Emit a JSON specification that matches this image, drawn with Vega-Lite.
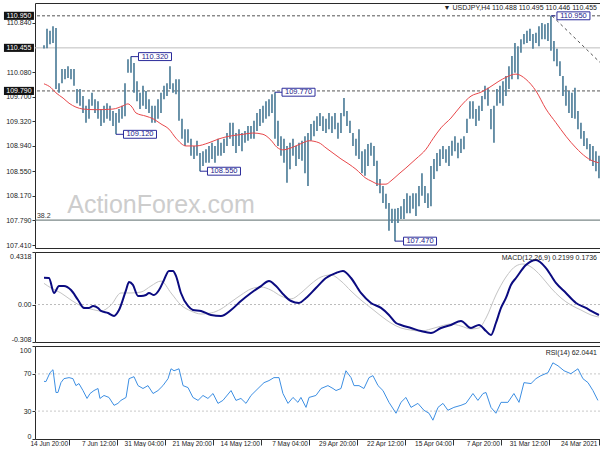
{
  "$schema": "https://vega.github.io/schema/vega-lite/v6.json",
  "padding": {"left": 0, "top": 2, "right": 1, "bottom": 0},
  "background": "white",
  "spacing": 2,
  "config": {
    "font": "Liberation Sans",
    "view": {"stroke": "#2a2a2a", "strokeWidth": 1},
    "axis": {"domain": false, "grid": false, "tickColor": "#333", "labelColor": "#222", "labelFont": "Liberation Sans"}
  },
  "resolve": {"scale": {"x": "independent", "y": "independent"}},
  "datasets": {
    "bars": [
      {"t":0,"p":108.44,"h":108.79},{"t":2,"p":108.55,"h":108.86},{"t":4,"p":108.63,"h":108.94},{"t":6,"p":108.71,"h":108.97},{"t":8,"p":108.89,"h":109.06},{"t":10,"p":108.94,"h":109.17},{"t":12,"p":109.05,"h":109.3},{"t":14,"p":109.2,"h":109.48},{"t":16,"p":109.36,"h":109.84},{"t":18,"p":109.37,"h":109.76},
      {"t":20,"p":109.45,"h":109.79},{"t":22,"p":109.56,"h":109.87},{"t":24,"p":109.71,"h":110.02},{"t":26,"p":110.02,"h":110.25},{"t":28,"p":110.17,"h":110.44},{"t":30,"p":110.25,"h":110.56},{"t":32,"p":110.41,"h":110.95},{"t":34,"p":110.56,"h":110.84},{"t":36,"p":110.59,"h":110.82},{"t":38,"p":110.59,"h":110.84},
      {"t":40,"p":110.48,"h":110.79},{"t":42,"p":110.53,"h":110.69},{"t":44,"p":110.44,"h":110.67},{"t":46,"p":110.56,"h":110.75},{"t":48,"p":110.53,"h":110.72},{"t":50,"p":110.51,"h":110.67},{"t":52,"p":110.38,"h":110.59},{"t":54,"p":109.97,"h":110.48},{"t":56,"p":110.07,"h":110.53},{"t":58,"p":109.97,"h":110.33},
      {"t":60,"p":109.82,"h":110.17},{"t":62,"p":109.71,"h":110.02},{"t":64,"p":109.56,"h":109.94},{"t":66,"p":109.6,"h":109.87},{"t":68,"p":109.56,"h":109.82},{"t":70,"p":108.99,"h":109.56},{"t":72,"p":109.2,"h":109.51},{"t":74,"p":109.56,"h":109.84},{"t":76,"p":109.66,"h":109.87},{"t":78,"p":109.48,"h":109.71},
      {"t":80,"p":109.33,"h":109.56},{"t":82,"p":109.25,"h":109.51},{"t":84,"p":109.36,"h":109.63},{"t":86,"p":109.36,"h":109.63},{"t":88,"p":109.14,"h":109.36},{"t":90,"p":108.89,"h":109.09},{"t":92,"p":108.83,"h":109.05},{"t":94,"p":108.75,"h":108.99},{"t":96,"p":108.86,"h":109.09},{"t":98,"p":108.79,"h":109.02},
      {"t":100,"p":108.63,"h":108.94},{"t":102,"p":108.68,"h":108.89},{"t":104,"p":108.74,"h":108.94},{"t":106,"p":108.63,"h":108.89},{"t":108,"p":108.55,"h":108.83},{"t":110,"p":108.43,"h":108.74},{"t":112,"p":108.01,"h":108.63},{"t":114,"p":107.98,"h":108.21},{"t":116,"p":108.06,"h":108.32},{"t":118,"p":108.17,"h":108.52},
      {"t":120,"p":108.01,"h":108.32},{"t":122,"p":107.86,"h":108.21},{"t":124,"p":107.97,"h":108.21},{"t":126,"p":107.9,"h":108.17},{"t":128,"p":107.9,"h":108.21},{"t":130,"p":107.81,"h":108.12},{"t":132,"p":107.81,"h":108.01},{"t":134,"p":107.75,"h":107.98},{"t":136,"p":107.47,"h":107.97},{"t":138,"p":107.75,"h":107.97},
      {"t":140,"p":107.63,"h":108.06},{"t":142,"p":107.97,"h":108.2},{"t":144,"p":108.06,"h":108.32},{"t":146,"p":108.21,"h":108.43},{"t":148,"p":108.32,"h":108.71},{"t":150,"p":108.63,"h":108.94},{"t":152,"p":108.79,"h":108.99},{"t":154,"p":108.63,"h":108.97},{"t":156,"p":108.48,"h":108.89},{"t":158,"p":108.52,"h":108.86},
      {"t":160,"p":108.74,"h":109.2},{"t":162,"p":108.79,"h":109.05},{"t":164,"p":108.94,"h":109.14},{"t":166,"p":109.14,"h":109.33},{"t":168,"p":109.25,"h":109.48},{"t":170,"p":109.4,"h":109.68},{"t":172,"p":109.14,"h":109.45},{"t":174,"p":109.05,"h":109.3},{"t":176,"p":109.2,"h":109.45},{"t":178,"p":109.14,"h":109.4},
      {"t":180,"p":109.2,"h":109.45},{"t":182,"p":109.14,"h":109.36},{"t":184,"p":109.17,"h":109.4},{"t":186,"p":109.25,"h":109.45},{"t":188,"p":109.17,"h":109.4},{"t":190,"p":109.09,"h":109.33},{"t":192,"p":109.02,"h":109.28},{"t":194,"p":108.32,"h":109.14},{"t":196,"p":108.52,"h":109.09},{"t":198,"p":108.71,"h":109.02},
      {"t":200,"p":108.74,"h":108.99},{"t":202,"p":108.63,"h":108.94},{"t":204,"p":108.79,"h":109.05},{"t":206,"p":108.58,"h":108.99},{"t":208,"p":108.37,"h":108.94},{"t":210,"p":108.68,"h":109.05},{"t":212,"p":108.79,"h":109.09},{"t":214,"p":108.94,"h":109.33},{"t":216,"p":109.05,"h":109.77},{"t":218,"p":109.45,"h":109.74},
      {"t":220,"p":109.4,"h":109.66},{"t":222,"p":109.36,"h":109.63},{"t":224,"p":109.3,"h":109.56},{"t":226,"p":109.25,"h":109.51},{"t":228,"p":109.17,"h":109.45},{"t":230,"p":109.05,"h":109.33},{"t":232,"p":109.05,"h":109.25},{"t":234,"p":109.02,"h":109.25},{"t":236,"p":108.99,"h":109.17},{"t":238,"p":108.86,"h":109.14},
      {"t":240,"p":108.94,"h":109.2},{"t":242,"p":108.83,"h":109.14},{"t":244,"p":108.94,"h":109.3},{"t":246,"p":109.05,"h":109.3},{"t":248,"p":108.94,"h":109.14},{"t":250,"p":108.83,"h":109.05},{"t":252,"p":108.79,"h":108.99},{"t":254,"p":108.79,"h":109.05},{"t":256,"p":108.68,"h":108.94},{"t":258,"p":108.74,"h":108.99},
      {"t":260,"p":108.68,"h":108.94},{"t":262,"p":108.68,"h":108.89},{"t":264,"p":108.63,"h":108.86},{"t":266,"p":108.55,"h":108.83},{"t":268,"p":108.79,"h":109.02},{"t":270,"p":108.74,"h":108.94},{"t":272,"p":108.79,"h":109.05},{"t":274,"p":108.99,"h":109.2},{"t":276,"p":108.94,"h":109.2},{"t":278,"p":109.05,"h":109.36},
      {"t":280,"p":109.33,"h":109.97},{"t":282,"p":109.74,"h":109.97},{"t":284,"p":109.76,"h":109.91},{"t":286,"p":109.82,"h":110.17},{"t":288,"p":109.71,"h":109.91},{"t":290,"p":109.66,"h":109.87},{"t":292,"p":109.45,"h":109.76},{"t":294,"p":109.36,"h":109.66},{"t":296,"p":109.3,"h":109.56},{"t":298,"p":109.3,"h":109.56},
      {"t":300,"p":109.45,"h":109.66},{"t":302,"p":109.51,"h":109.79},{"t":304,"p":109.56,"h":109.87},{"t":306,"p":109.51,"h":109.76},{"t":308,"p":109.63,"h":109.94},{"t":310,"p":109.76,"h":110.22},{"t":312,"p":110.07,"h":110.32},{"t":314,"p":110.07,"h":110.28},{"t":316,"p":109.4,"h":109.91},{"t":318,"p":109.36,"h":109.56},
      {"t":320,"p":109.3,"h":109.51},{"t":322,"p":109.12,"h":109.45},{"t":324,"p":109.25,"h":109.48},{"t":326,"p":109.33,"h":109.56},{"t":328,"p":109.36,"h":109.6},{"t":330,"p":109.3,"h":109.56},{"t":332,"p":109.25,"h":109.51},{"t":334,"p":109.36,"h":109.63},{"t":336,"p":109.45,"h":109.66},{"t":338,"p":109.56,"h":109.76},
      {"t":340,"p":109.36,"h":109.66},{"t":342,"p":109.3,"h":109.56},{"t":344,"p":109.45,"h":109.71},{"t":346,"p":109.56,"h":109.82},{"t":348,"p":109.6,"h":109.82},{"t":350,"p":109.87,"h":110.13},{"t":352,"p":109.97,"h":110.13},{"t":354,"p":109.99,"h":110.17},{"t":356,"p":109.97,"h":110.13},{"t":358,"p":109.91,"h":110.13},
      {"t":360,"p":109.76,"h":109.91},{"t":362,"p":109.82,"h":110.76},{"t":364,"p":110.53,"h":110.79},{"t":366,"p":110.51,"h":110.72},{"t":368,"p":110.45,"h":110.75},{"t":370,"p":110.446,"h":110.495}
    ],
    "ma": [
      {"t":0,"p":108.68},{"t":5.3,"p":108.72},{"t":8.7,"p":108.77},{"t":15.3,"p":108.91},{"t":22,"p":109.09},{"t":28.7,"p":109.3},{"t":35.3,"p":109.51},{"t":42,"p":109.79},{"t":48.7,"p":109.97},{"t":55.3,"p":110.05},{"t":62,"p":110.0},{"t":66.7,"p":109.94},{"t":73.3,"p":109.84},{"t":78.7,"p":109.77},{"t":85.3,"p":109.71},{"t":92,"p":109.56},{"t":98.7,"p":109.37},{"t":105.3,"p":109.22},{"t":110.7,"p":109.05},{"t":115.3,"p":108.89},{"t":122,"p":108.74},{"t":128.7,"p":108.6},{"t":133.3,"p":108.51},{"t":138.7,"p":108.4},{"t":142,"p":108.35},{"t":146.7,"p":108.35},{"t":152,"p":108.4},{"t":155.3,"p":108.44},{"t":162,"p":108.58},{"t":166.7,"p":108.66},{"t":172,"p":108.74},{"t":177.3,"p":108.83},{"t":182,"p":108.91},{"t":186.7,"p":108.99},{"t":193.3,"p":109.02},{"t":197.3,"p":108.99},{"t":205.3,"p":108.91},{"t":210.7,"p":108.88},{"t":214.7,"p":108.92},{"t":218.7,"p":109.03},{"t":224,"p":109.12},{"t":230.7,"p":109.14},{"t":237.3,"p":109.12},{"t":246.7,"p":109.09},{"t":253.3,"p":109.05},{"t":260,"p":108.99},{"t":268.7,"p":108.94},{"t":275.3,"p":108.94},{"t":282,"p":109.06},{"t":286.7,"p":109.2},{"t":292,"p":109.28},{"t":297.3,"p":109.36},{"t":302,"p":109.4},{"t":308.7,"p":109.45},{"t":311.3,"p":109.54},{"t":314,"p":109.59},{"t":317.3,"p":109.56},{"t":324,"p":109.51},{"t":335.3,"p":109.5},{"t":344,"p":109.51},{"t":348.7,"p":109.54},{"t":353.3,"p":109.6},{"t":357.3,"p":109.68},{"t":362,"p":109.76},{"t":365.3,"p":109.84},{"t":370,"p":109.9}
    ],
    "ann": [
      {"t":32,"tl":29,"tb":17,"p":110.95,"label":"110.950"},
      {"t":312,"tl":306.7,"tb":296,"p":110.32,"label":"110.320"},
      {"t":322,"tl":316.7,"tb":306,"p":109.12,"label":"109.120"},
      {"t":266,"tl":260.7,"tb":250,"p":108.55,"label":"108.550"},
      {"t":216,"tl":210.7,"tb":200.3,"p":109.77,"label":"109.770"},
      {"t":136,"tl":130,"tb":119.3,"p":107.47,"label":"107.470"}
    ],
    "macd": [
      {"t":0,"v":-0.086},{"t":5.3,"v":-0.053},{"t":8.7,"v":-0.028},{"t":15.3,"v":0.013},{"t":22,"v":0.095},{"t":28.7,"v":0.177},{"t":35.3,"v":0.3},{"t":42,"v":0.366},{"t":48.7,"v":0.325},{"t":55.3,"v":0.218},{"t":58.7,"v":0.161},{"t":62,"v":0.054},{"t":65.3,"v":-0.028},{"t":68.7,"v":-0.152},{"t":72,"v":-0.251},{"t":75.3,"v":-0.218},{"t":80,"v":-0.168},{"t":85.3,"v":-0.193},{"t":92,"v":-0.135},{"t":98.7,"v":-0.168},{"t":105.3,"v":-0.193},{"t":112,"v":-0.234},{"t":118.7,"v":-0.218},{"t":125.3,"v":-0.193},{"t":132,"v":-0.168},{"t":135.3,"v":-0.152},{"t":140,"v":-0.086},{"t":145.3,"v":-0.028},{"t":152,"v":0.013},{"t":158.7,"v":0.095},{"t":165.3,"v":0.218},{"t":170.7,"v":0.276},{"t":175.3,"v":0.259},{"t":182,"v":0.218},{"t":188.7,"v":0.136},{"t":195.3,"v":0.054},{"t":200,"v":0.013},{"t":205.3,"v":0.029},{"t":210,"v":0.078},{"t":215.3,"v":0.152},{"t":220,"v":0.193},{"t":225.3,"v":0.152},{"t":232,"v":0.095},{"t":238.7,"v":0.029},{"t":245.3,"v":-0.045},{"t":252,"v":-0.094},{"t":258.7,"v":-0.086},{"t":265.3,"v":-0.053},{"t":270.7,"v":-0.045},{"t":274,"v":-0.012},{"t":278.7,"v":0.095},{"t":282,"v":0.235},{"t":284,"v":0.276},{"t":286.7,"v":0.276},{"t":290,"v":0.202},{"t":293.3,"v":0.119},{"t":296.7,"v":0.078},{"t":300,"v":0.095},{"t":302,"v":0.078},{"t":305.3,"v":0.07},{"t":307.3,"v":0.07},{"t":310.7,"v":0.161},{"t":313.3,"v":0.185},{"t":315.3,"v":0.119},{"t":320,"v":-0.045},{"t":323.3,"v":-0.094},{"t":327.3,"v":-0.07},{"t":332,"v":-0.053},{"t":334,"v":-0.028},{"t":337.3,"v":-0.012},{"t":340,"v":-0.028},{"t":343.3,"v":-0.028},{"t":347.3,"v":0.037},{"t":352,"v":0.119},{"t":356.7,"v":0.152},{"t":360,"v":0.152},{"t":363.3,"v":0.095},{"t":366.7,"v":0.218},{"t":370,"v":0.22}
    ],
    "signal": [
      {"t":0,"v":-0.103},{"t":5.3,"v":-0.086},{"t":12,"v":-0.045},{"t":18.7,"v":-0.004},{"t":25.3,"v":0.054},{"t":32,"v":0.136},{"t":38.7,"v":0.235},{"t":45.3,"v":0.309},{"t":50.7,"v":0.333},{"t":55.3,"v":0.317},{"t":62,"v":0.226},{"t":68.7,"v":0.078},{"t":75.3,"v":-0.111},{"t":80,"v":-0.193},{"t":85.3,"v":-0.201},{"t":92,"v":-0.177},{"t":98.7,"v":-0.16},{"t":105.3,"v":-0.177},{"t":112,"v":-0.201},{"t":118.7,"v":-0.218},{"t":125.3,"v":-0.21},{"t":132,"v":-0.193},{"t":138.7,"v":-0.152},{"t":145.3,"v":-0.094},{"t":152,"v":-0.028},{"t":158.7,"v":0.037},{"t":165.3,"v":0.111},{"t":172,"v":0.193},{"t":178.7,"v":0.243},{"t":185.3,"v":0.226},{"t":192,"v":0.169},{"t":198.7,"v":0.095},{"t":205.3,"v":0.046},{"t":212,"v":0.07},{"t":218.7,"v":0.119},{"t":225.3,"v":0.144},{"t":232,"v":0.128},{"t":238.7,"v":0.078},{"t":245.3,"v":0.021},{"t":252,"v":-0.037},{"t":258.7,"v":-0.07},{"t":265.3,"v":-0.078},{"t":272,"v":-0.053},{"t":278.7,"v":-0.004},{"t":285.3,"v":0.095},{"t":292,"v":0.193},{"t":298.7,"v":0.152},{"t":305.3,"v":0.103},{"t":312,"v":0.095},{"t":318.7,"v":0.095},{"t":325.3,"v":-0.004},{"t":332,"v":-0.053},{"t":338.7,"v":-0.037},{"t":345.3,"v":-0.012},{"t":352,"v":0.037},{"t":358.7,"v":0.095},{"t":365.3,"v":0.136},{"t":370,"v":0.174}
    ],
    "rsi": [
      {"t":0.7,"v":41.5},{"t":4,"v":52.1},{"t":7.3,"v":60.6},{"t":10.7,"v":64.9},{"t":14,"v":75.5},{"t":18.7,"v":70.2},{"t":23.3,"v":73.4},{"t":27.3,"v":78.7},{"t":30.7,"v":81.9},{"t":34,"v":71.3},{"t":38.7,"v":68.1},{"t":42,"v":64.9},{"t":45.3,"v":59.6},{"t":50,"v":60.6},{"t":53.3,"v":39.4},{"t":56.7,"v":48.9},{"t":60.7,"v":39.4},{"t":65.3,"v":39.4},{"t":68.7,"v":27.7},{"t":72,"v":34.0},{"t":75.3,"v":50.0},{"t":77.3,"v":48.9},{"t":80.7,"v":41.5},{"t":84,"v":48.9},{"t":88.7,"v":38.3},{"t":92,"v":36.2},{"t":96.7,"v":34.0},{"t":100.7,"v":30.9},{"t":104,"v":38.3},{"t":107.3,"v":34.0},{"t":110.7,"v":20.2},{"t":113.3,"v":27.7},{"t":116.7,"v":30.9},{"t":120.7,"v":38.3},{"t":125.3,"v":34.0},{"t":128.7,"v":44.7},{"t":132,"v":39.4},{"t":135.3,"v":27.7},{"t":140,"v":39.4},{"t":144,"v":52.1},{"t":147.3,"v":57.4},{"t":150.7,"v":68.1},{"t":153.3,"v":66.0},{"t":156.7,"v":54.3},{"t":160,"v":57.4},{"t":163.3,"v":57.4},{"t":165.3,"v":66.0},{"t":168.7,"v":73.4},{"t":172,"v":54.3},{"t":175.3,"v":52.1},{"t":177.3,"v":54.3},{"t":180.7,"v":57.4},{"t":185.3,"v":54.3},{"t":188.7,"v":46.8},{"t":193.3,"v":44.7},{"t":195.3,"v":34.0},{"t":198.7,"v":44.7},{"t":200.7,"v":39.4},{"t":204,"v":44.7},{"t":207.3,"v":38.3},{"t":210.7,"v":48.9},{"t":213.3,"v":66.0},{"t":216.7,"v":66.0},{"t":220,"v":62.8},{"t":223.3,"v":60.6},{"t":227.3,"v":54.3},{"t":232,"v":46.8},{"t":235.3,"v":38.3},{"t":238.7,"v":43.6},{"t":242,"v":41.5},{"t":245.3,"v":52.1},{"t":250.7,"v":41.5},{"t":254,"v":38.3},{"t":257.3,"v":48.9},{"t":260.7,"v":43.6},{"t":264,"v":46.8},{"t":267.3,"v":41.5},{"t":270.7,"v":44.7},{"t":274,"v":55.3},{"t":277.3,"v":57.4},{"t":280,"v":75.5},{"t":283.3,"v":73.4},{"t":285.3,"v":75.5},{"t":287.3,"v":64.9},{"t":290.7,"v":57.4},{"t":294,"v":52.1},{"t":297.3,"v":48.9},{"t":300.7,"v":57.4},{"t":304,"v":54.3},{"t":307.3,"v":57.4},{"t":310,"v":67.0},{"t":313.3,"v":64.9},{"t":315.3,"v":44.7},{"t":318.7,"v":41.5},{"t":320.7,"v":38.3},{"t":323.3,"v":36.2},{"t":326.7,"v":44.7},{"t":330,"v":46.8},{"t":332.7,"v":43.6},{"t":334,"v":54.3},{"t":336.7,"v":52.1},{"t":339.3,"v":48.9},{"t":341.3,"v":43.6},{"t":344,"v":52.1},{"t":346.7,"v":59.6},{"t":348.7,"v":57.4},{"t":350.7,"v":64.9},{"t":353.3,"v":66.0},{"t":356.7,"v":64.9},{"t":358.7,"v":60.6},{"t":360.7,"v":50.0},{"t":362,"v":50.0},{"t":364,"v":74.5},{"t":366,"v":71.3},{"t":368.7,"v":61.7},{"t":370,"v":62.04}
    ]
  },
  "vconcat": [
    {
      "width": 565,
      "height": 245,
      "layer": [
        {
          "data": {"values": [{"t": 292, "p": 108.03, "label": "ActionForex.com"}]},
          "mark": {"type": "text", "fontSize": 25, "color": "#cdcdcd", "font": "Liberation Sans"},
          "encoding": {
            "x": {"field": "t", "type": "quantitative", "scale": {"domain": [-0.7, 376], "reverse": true, "nice": false, "zero": false}, "axis": null},
            "y": {"field": "p", "type": "quantitative", "scale": {"domain": [107.364, 111.148], "nice": false, "zero": false}, "axis": {"title": null, "values": [107.41, 107.79, 108.17, 108.55, 108.94, 109.32, 109.7, 110.08, 110.84], "format": ".3f", "labelFontSize": 7, "tickSize": 3, "labelPadding": 1, "minExtent": 34, "maxExtent": 34}},
            "text": {"field": "label"}
          }
        },
        {
          "data": {"values": [{"p": 110.95}, {"p": 109.79}]},
          "mark": {"type": "rule", "color": "#555", "strokeDash": [3, 2], "strokeWidth": 1},
          "encoding": {
            "y": {"field": "p", "type": "quantitative", "scale": {"domain": [107.364, 111.148], "nice": false, "zero": false}, "axis": {"title": null, "values": [107.41, 107.79, 108.17, 108.55, 108.94, 109.32, 109.7, 110.08, 110.84], "format": ".3f", "labelFontSize": 7, "tickSize": 3, "labelPadding": 1, "minExtent": 34, "maxExtent": 34}}
          }
        },
        {
          "data": {"values": [{"p": 110.455}]},
          "mark": {"type": "rule", "color": "#bdbdbd", "strokeWidth": 1},
          "encoding": {
            "y": {"field": "p", "type": "quantitative", "scale": {"domain": [107.364, 111.148], "nice": false, "zero": false}, "axis": {"title": null, "values": [107.41, 107.79, 108.17, 108.55, 108.94, 109.32, 109.7, 110.08, 110.84], "format": ".3f", "labelFontSize": 7, "tickSize": 3, "labelPadding": 1, "minExtent": 34, "maxExtent": 34}}
          }
        },
        {
          "data": {"values": [{"p": 107.795}]},
          "mark": {"type": "rule", "color": "#5a6b6b", "strokeWidth": 1},
          "encoding": {
            "y": {"field": "p", "type": "quantitative", "scale": {"domain": [107.364, 111.148], "nice": false, "zero": false}, "axis": {"title": null, "values": [107.41, 107.79, 108.17, 108.55, 108.94, 109.32, 109.7, 110.08, 110.84], "format": ".3f", "labelFontSize": 7, "tickSize": 3, "labelPadding": 1, "minExtent": 34, "maxExtent": 34}}
          }
        },
        {
          "data": {"values": [{"t": 31.3, "p": 110.95}, {"t": -0.7, "p": 110.23}]},
          "mark": {"type": "line", "color": "#555", "strokeDash": [3, 3], "strokeWidth": 1},
          "encoding": {
            "x": {"field": "t", "type": "quantitative", "scale": {"domain": [-0.7, 376], "reverse": true, "nice": false, "zero": false}, "axis": null},
            "y": {"field": "p", "type": "quantitative", "scale": {"domain": [107.364, 111.148], "nice": false, "zero": false}, "axis": {"title": null, "values": [107.41, 107.79, 108.17, 108.55, 108.94, 109.32, 109.7, 110.08, 110.84], "format": ".3f", "labelFontSize": 7, "tickSize": 3, "labelPadding": 1, "minExtent": 34, "maxExtent": 34}}
          }
        },
        {
          "data": {"name": "bars"},
          "mark": {"type": "rule", "color": "#52809b", "strokeWidth": 1.7},
          "encoding": {
            "x": {"field": "t", "type": "quantitative", "scale": {"domain": [-0.7, 376], "reverse": true, "nice": false, "zero": false}, "axis": null},
            "y": {"field": "p", "type": "quantitative", "scale": {"domain": [107.364, 111.148], "nice": false, "zero": false}, "axis": {"title": null, "values": [107.41, 107.79, 108.17, 108.55, 108.94, 109.32, 109.7, 110.08, 110.84], "format": ".3f", "labelFontSize": 7, "tickSize": 3, "labelPadding": 1, "minExtent": 34, "maxExtent": 34}},
            "y2": {"field": "h"}
          }
        },
        {
          "data": {"name": "ma"},
          "mark": {"type": "line", "color": "#e8474a", "strokeWidth": 1, "interpolate": "monotone"},
          "encoding": {
            "x": {"field": "t", "type": "quantitative", "scale": {"domain": [-0.7, 376], "reverse": true, "nice": false, "zero": false}, "axis": null},
            "y": {"field": "p", "type": "quantitative", "scale": {"domain": [107.364, 111.148], "nice": false, "zero": false}, "axis": {"title": null, "values": [107.41, 107.79, 108.17, 108.55, 108.94, 109.32, 109.7, 110.08, 110.84], "format": ".3f", "labelFontSize": 7, "tickSize": 3, "labelPadding": 1, "minExtent": 34, "maxExtent": 34}}
          }
        },
        {
          "data": {"name": "ann"},
          "mark": {"type": "rule", "color": "#2b2b9a", "strokeWidth": 1},
          "encoding": {
            "x": {"field": "t", "type": "quantitative", "scale": {"domain": [-0.7, 376], "reverse": true, "nice": false, "zero": false}, "axis": null},
            "x2": {"field": "tl"},
            "y": {"field": "p", "type": "quantitative", "scale": {"domain": [107.364, 111.148], "nice": false, "zero": false}, "axis": {"title": null, "values": [107.41, 107.79, 108.17, 108.55, 108.94, 109.32, 109.7, 110.08, 110.84], "format": ".3f", "labelFontSize": 7, "tickSize": 3, "labelPadding": 1, "minExtent": 34, "maxExtent": 34}}
          }
        },
        {
          "data": {"name": "ann"},
          "mark": {"type": "point", "shape": "M-1,-0.24H1V0.24H-1Z", "size": 1089, "filled": false, "fill": "white", "fillOpacity": 1, "stroke": "#2b2b9a", "strokeWidth": 1, "opacity": 1},
          "encoding": {
            "x": {"field": "tb", "type": "quantitative", "scale": {"domain": [-0.7, 376], "reverse": true, "nice": false, "zero": false}, "axis": null},
            "y": {"field": "p", "type": "quantitative", "scale": {"domain": [107.364, 111.148], "nice": false, "zero": false}, "axis": {"title": null, "values": [107.41, 107.79, 108.17, 108.55, 108.94, 109.32, 109.7, 110.08, 110.84], "format": ".3f", "labelFontSize": 7, "tickSize": 3, "labelPadding": 1, "minExtent": 34, "maxExtent": 34}}
          }
        },
        {
          "data": {"name": "ann"},
          "mark": {"type": "text", "fontSize": 7.5, "color": "#1c1c8a", "baseline": "middle"},
          "encoding": {
            "x": {"field": "tb", "type": "quantitative", "scale": {"domain": [-0.7, 376], "reverse": true, "nice": false, "zero": false}, "axis": null},
            "y": {"field": "p", "type": "quantitative", "scale": {"domain": [107.364, 111.148], "nice": false, "zero": false}, "axis": {"title": null, "values": [107.41, 107.79, 108.17, 108.55, 108.94, 109.32, 109.7, 110.08, 110.84], "format": ".3f", "labelFontSize": 7, "tickSize": 3, "labelPadding": 1, "minExtent": 34, "maxExtent": 34}},
            "text": {"field": "label"}
          }
        },
        {
          "data": {"values": [{"p": 110.95, "label": "110.950"}, {"p": 110.455, "label": "110.455"}, {"p": 109.79, "label": "109.790"}]},
          "mark": {"type": "point", "shape": "M-1,-0.27H1V0.27H-1Z", "size": 900, "filled": true, "color": "#141414", "opacity": 1},
          "encoding": {
            "x": {"datum": 386.7, "type": "quantitative", "scale": {"domain": [-0.7, 376], "reverse": true, "nice": false, "zero": false}, "axis": null},
            "y": {"field": "p", "type": "quantitative", "scale": {"domain": [107.364, 111.148], "nice": false, "zero": false}, "axis": {"title": null, "values": [107.41, 107.79, 108.17, 108.55, 108.94, 109.32, 109.7, 110.08, 110.84], "format": ".3f", "labelFontSize": 7, "tickSize": 3, "labelPadding": 1, "minExtent": 34, "maxExtent": 34}}
          }
        },
        {
          "data": {"values": [{"p": 110.95, "label": "110.950"}, {"p": 110.455, "label": "110.455"}, {"p": 109.79, "label": "109.790"}]},
          "mark": {"type": "text", "fontSize": 7, "color": "white", "baseline": "middle"},
          "encoding": {
            "x": {"datum": 386.7, "type": "quantitative", "scale": {"domain": [-0.7, 376], "reverse": true, "nice": false, "zero": false}, "axis": null},
            "y": {"field": "p", "type": "quantitative", "scale": {"domain": [107.364, 111.148], "nice": false, "zero": false}, "axis": {"title": null, "values": [107.41, 107.79, 108.17, 108.55, 108.94, 109.32, 109.7, 110.08, 110.84], "format": ".3f", "labelFontSize": 7, "tickSize": 3, "labelPadding": 1, "minExtent": 34, "maxExtent": 34}},
            "text": {"field": "label"}
          }
        },
        {
          "data": {"values": [{"t": 374.7, "p": 107.795, "label": "38.2"}]},
          "mark": {"type": "text", "fontSize": 7, "color": "#333", "align": "left", "baseline": "bottom", "dy": -1},
          "encoding": {
            "x": {"field": "t", "type": "quantitative", "scale": {"domain": [-0.7, 376], "reverse": true, "nice": false, "zero": false}, "axis": null},
            "y": {"field": "p", "type": "quantitative", "scale": {"domain": [107.364, 111.148], "nice": false, "zero": false}, "axis": {"title": null, "values": [107.41, 107.79, 108.17, 108.55, 108.94, 109.32, 109.7, 110.08, 110.84], "format": ".3f", "labelFontSize": 7, "tickSize": 3, "labelPadding": 1, "minExtent": 34, "maxExtent": 34}},
            "text": {"field": "label"}
          }
        },
        {
          "data": {"values": [{"t": 1.3, "p": 111.07, "label": "▼ USDJPY,H4  110.488 110.495 110.446 110.455"}]},
          "mark": {"type": "text", "fontSize": 7, "color": "#222", "align": "right", "baseline": "middle"},
          "encoding": {
            "x": {"field": "t", "type": "quantitative", "scale": {"domain": [-0.7, 376], "reverse": true, "nice": false, "zero": false}, "axis": null},
            "y": {"field": "p", "type": "quantitative", "scale": {"domain": [107.364, 111.148], "nice": false, "zero": false}, "axis": {"title": null, "values": [107.41, 107.79, 108.17, 108.55, 108.94, 109.32, 109.7, 110.08, 110.84], "format": ".3f", "labelFontSize": 7, "tickSize": 3, "labelPadding": 1, "minExtent": 34, "maxExtent": 34}},
            "text": {"field": "label"}
          }
        }
      ]
    },
    {
      "width": 565,
      "height": 90,
      "layer": [
        {
          "data": {"values": [{"v": 0}]},
          "mark": {"type": "rule", "color": "#bbbbbb", "strokeDash": [2, 2], "strokeWidth": 1},
          "encoding": {
            "y": {"field": "v", "type": "quantitative", "scale": {"domain": [-0.308, 0.4318], "nice": false, "zero": false}, "axis": {"title": null, "values": [-0.308, 0, 0.4318], "labelExpr": "datum.value == 0 ? '0.00' : (datum.value > 0.4 ? '0.4318' : '-0.308')", "labelFlush": true, "labelFontSize": 7, "tickSize": 3, "labelPadding": 1, "minExtent": 34, "maxExtent": 34}}
          }
        },
        {
          "data": {"name": "signal"},
          "mark": {"type": "line", "color": "#c4c4c4", "strokeWidth": 1, "interpolate": "monotone"},
          "encoding": {
            "x": {"field": "t", "type": "quantitative", "scale": {"domain": [-0.7, 376], "reverse": true, "nice": false, "zero": false}, "axis": null},
            "y": {"field": "v", "type": "quantitative", "scale": {"domain": [-0.308, 0.4318], "nice": false, "zero": false}, "axis": {"title": null, "values": [-0.308, 0, 0.4318], "labelExpr": "datum.value == 0 ? '0.00' : (datum.value > 0.4 ? '0.4318' : '-0.308')", "labelFlush": true, "labelFontSize": 7, "tickSize": 3, "labelPadding": 1, "minExtent": 34, "maxExtent": 34}}
          }
        },
        {
          "data": {"name": "macd"},
          "mark": {"type": "line", "color": "#0b0b80", "strokeWidth": 2, "interpolate": "monotone"},
          "encoding": {
            "x": {"field": "t", "type": "quantitative", "scale": {"domain": [-0.7, 376], "reverse": true, "nice": false, "zero": false}, "axis": null},
            "y": {"field": "v", "type": "quantitative", "scale": {"domain": [-0.308, 0.4318], "nice": false, "zero": false}, "axis": {"title": null, "values": [-0.308, 0, 0.4318], "labelExpr": "datum.value == 0 ? '0.00' : (datum.value > 0.4 ? '0.4318' : '-0.308')", "labelFlush": true, "labelFontSize": 7, "tickSize": 3, "labelPadding": 1, "minExtent": 34, "maxExtent": 34}}
          }
        },
        {
          "data": {"values": [{"t": 1.3, "v": 0.382, "label": "MACD(12,26,9) 0.2199 0.1736"}]},
          "mark": {"type": "text", "fontSize": 7, "color": "#222", "align": "right", "baseline": "middle"},
          "encoding": {
            "x": {"field": "t", "type": "quantitative", "scale": {"domain": [-0.7, 376], "reverse": true, "nice": false, "zero": false}, "axis": null},
            "y": {"field": "v", "type": "quantitative", "scale": {"domain": [-0.308, 0.4318], "nice": false, "zero": false}, "axis": {"title": null, "values": [-0.308, 0, 0.4318], "labelExpr": "datum.value == 0 ? '0.00' : (datum.value > 0.4 ? '0.4318' : '-0.308')", "labelFlush": true, "labelFontSize": 7, "tickSize": 3, "labelPadding": 1, "minExtent": 34, "maxExtent": 34}},
            "text": {"field": "label"}
          }
        }
      ]
    },
    {
      "width": 565,
      "height": 93,
      "layer": [
        {
          "data": {"values": [{"v": 70}, {"v": 30}]},
          "mark": {"type": "rule", "color": "#c8c8c8", "strokeDash": [2, 2], "strokeWidth": 1},
          "encoding": {
            "y": {"field": "v", "type": "quantitative", "scale": {"domain": [0, 100], "nice": false, "zero": false}, "axis": {"title": null, "values": [0, 30, 70, 100], "labelFlush": true, "labelFontSize": 7, "tickSize": 3, "labelPadding": 1, "minExtent": 34, "maxExtent": 34}}
          }
        },
        {
          "data": {"name": "rsi"},
          "mark": {"type": "line", "color": "#3d8fe3", "strokeWidth": 1},
          "encoding": {
            "x": {"field": "t", "type": "quantitative", "scale": {"domain": [-0.7, 376], "reverse": true, "nice": false, "zero": false},
                  "axis": {"title": null, "values": [0, 33, 65, 97, 129, 161, 193, 225, 257, 289, 321, 353], "labelExpr": "['24 Mar 2021','31 Mar 12:00','7 Apr 20:00','15 Apr 04:00','22 Apr 12:00','29 Apr 20:00','7 May 04:00','14 May 12:00','21 May 20:00','31 May 04:00','7 Jun 12:00','14 Jun 20:00'][indexof([0,33,65,97,129,161,193,225,257,289,321,353], datum.value)]", "labelAlign": "right", "labelFontSize": 6.5, "tickSize": 6, "labelPadding": -5, "labelOffset": -2, "labelBound": false, "labelOverlap": false}},
            "y": {"field": "v", "type": "quantitative", "scale": {"domain": [0, 100], "nice": false, "zero": false}, "axis": {"title": null, "values": [0, 30, 70, 100], "labelFlush": true, "labelFontSize": 7, "tickSize": 3, "labelPadding": 1, "minExtent": 34, "maxExtent": 34}}
          }
        },
        {
          "data": {"values": [{"t": 1.3, "v": 92.5, "label": "RSI(14) 62.0441"}]},
          "mark": {"type": "text", "fontSize": 7, "color": "#222", "align": "right", "baseline": "middle"},
          "encoding": {
            "x": {"field": "t", "type": "quantitative", "scale": {"domain": [-0.7, 376], "reverse": true, "nice": false, "zero": false},
                  "axis": {"title": null, "values": [0, 33, 65, 97, 129, 161, 193, 225, 257, 289, 321, 353], "labelExpr": "['24 Mar 2021','31 Mar 12:00','7 Apr 20:00','15 Apr 04:00','22 Apr 12:00','29 Apr 20:00','7 May 04:00','14 May 12:00','21 May 20:00','31 May 04:00','7 Jun 12:00','14 Jun 20:00'][indexof([0,33,65,97,129,161,193,225,257,289,321,353], datum.value)]", "labelAlign": "right", "labelFontSize": 6.5, "tickSize": 6, "labelPadding": -5, "labelOffset": -2, "labelBound": false, "labelOverlap": false}},
            "y": {"field": "v", "type": "quantitative", "scale": {"domain": [0, 100], "nice": false, "zero": false}, "axis": {"title": null, "values": [0, 30, 70, 100], "labelFlush": true, "labelFontSize": 7, "tickSize": 3, "labelPadding": 1, "minExtent": 34, "maxExtent": 34}},
            "text": {"field": "label"}
          }
        }
      ]
    }
  ]
}
